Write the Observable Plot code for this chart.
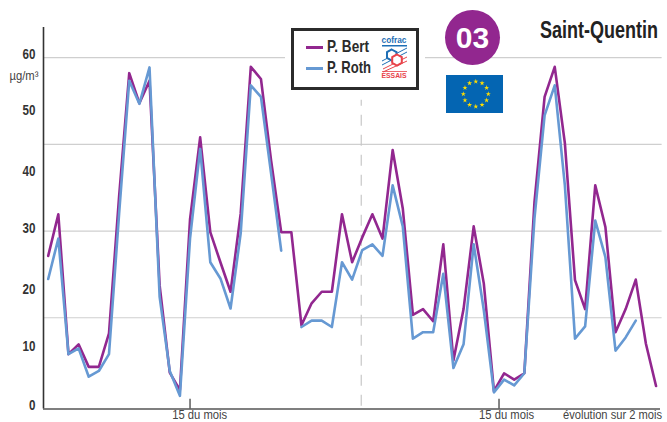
<!DOCTYPE html>
<html><head><meta charset="utf-8">
<script src="https://cdn.jsdelivr.net/npm/d3@7"></script>
<script src="https://cdn.jsdelivr.net/npm/@observablehq/plot@0.6"></script>
<style>
html,body{margin:0;padding:0;background:#fff;}
body{width:667px;height:422px;overflow:hidden;position:relative;}
#chart{position:absolute;left:0;top:0;}
#chart svg{display:block;}
.ov{position:absolute;font-family:"Liberation Sans",sans-serif;}
.nar{display:inline-block;transform-origin:left center;white-space:nowrap;}
</style></head><body>
<div id="chart"></div>
<div id="over"></div>
<script>
const bert = [25.7,32.9,8.7,10.4,6.5,6.5,12.3,36,57.3,52.1,56,20.6,5.5,2.5,32,46.2,29.8,24.6,19.5,33,58.4,56.3,42.2,29.8,29.8,13.7,17.5,19.5,19.5,32.9,24.6,28.9,32.9,28.7,44,33.9,15.5,16.5,14.4,27.7,7.6,16.5,30.8,20.9,2.3,5.4,4.3,5.4,35,53.2,58.4,45.2,21.5,16.5,37.9,30.7,12.5,16.5,21.6,10.5,3.2];
const roth = [21.7,28.7,8.7,9.7,4.8,5.8,8.7,33,56,52,58.3,18.6,5.8,1.5,28.7,44.2,24.6,21.8,16.6,29.6,55.2,53.2,40,26.6,null,13.4,14.5,14.5,13.4,24.6,21.6,26.7,27.7,25.7,37.9,30.8,11.4,12.5,12.5,22.6,6.3,10.4,27.7,16.3,2.1,4.3,3.3,5.4,32.2,50,55.2,37.9,11.4,13.5,31.8,25.5,9.3,11.6,14.5,null,null];
const days = bert.map((_, i) => i);
const gridValues = [15, 30, 45, 60];
const yLabelText = ["0","10","20","30","40","50","60"];
const yLabelPos = [-0.2,10,19.9,30.5,40.3,50.9,60.5];
const monthTicks = [14, 44.5];
const monthLabelPos = [14.95, 45.25];
const monthBoundary = 30.9;
const seriesNames = ["P. Bert","P. Roth"];
const purple = "#92278f", blue = "#6699d3";
const font = '"Liberation Sans",sans-serif';

const xDomain = [-0.464, 60.44], yDomain = [-0.78, 65.2];

const chart = Plot.plot({
  width: 667, height: 422,
  marginLeft: 43, marginRight: 7, marginTop: 27, marginBottom: 13.5,
  style: {fontFamily: font, background: "#fff", overflow: "visible"},
  x: {domain: xDomain, axis: null},
  y: {domain: yDomain, axis: null},
  marks: [
    Plot.ruleY(gridValues, {x1: xDomain[0], x2: 60.6, stroke: "#cfcfcf", strokeWidth: 1.2}),
    Plot.ruleX([monthBoundary], {y1: -0.3, y2: 52.6, stroke: "#c8c8c8", strokeWidth: 1.2, strokeDasharray: "11 9"}),
    Plot.line(days, {x: d => d, y: i => bert[i], stroke: purple, strokeWidth: 2.6, curve: "linear"}),
    Plot.line(days, {x: d => d, y: i => roth[i], stroke: blue, strokeWidth: 2.6, curve: "linear"}),
    Plot.ruleX([xDomain[0]], {y1: yDomain[0], y2: yDomain[1], stroke: "#333", strokeWidth: 1.6}),
    Plot.ruleY([yDomain[0]], {x1: xDomain[0], x2: xDomain[1], stroke: "#555", strokeWidth: 1.4}),
    Plot.ruleX(monthTicks, {y1: yDomain[0], y2: 0.9, stroke: "#333", strokeWidth: 1.2}),
    Plot.text(yLabelPos, {y: d => d, frameAnchor: "left", dx: -8, textAnchor: "end",
      text: (d, i) => yLabelText[i], fontSize: 14.5, fontWeight: "bold", fill: "#333"}),
    Plot.text(monthLabelPos, {x: d => d, frameAnchor: "bottom", lineAnchor: "middle", dy: 6, text: () => "15 du mois", fontSize: 12.5, fill: "#444"}),
    Plot.text(["évolution sur 2 mois"], {frameAnchor: "bottom-right", lineAnchor: "middle", dx: 1.5, dy: 6.5, textAnchor: "end", text: d => d, fontSize: 12, fill: "#444"}),
    Plot.text(["µg/m³"], {frameAnchor: "top-left", lineAnchor: "middle", dx: -34, dy: 48, textAnchor: "start", text: d => d, fontSize: 12.5, fill: "#444"})
  ]
});
document.getElementById("chart").append(chart);

const targetWidths = {"15 du mois": 55, "évolution sur 2 mois": 99, "µg/m³": 29};
chart.querySelectorAll("text").forEach(t => {
  const s = t.textContent;
  const w = t.getComputedTextLength();
  const target = targetWidths[s] || w * 0.8;
  t.setAttribute("textLength", target);
  t.setAttribute("lengthAdjust", "spacingAndGlyphs");
});

const over = document.getElementById("over");
over.innerHTML = `
<div class="ov" style="left:291px;top:28px;width:122px;height:56px;border:3px solid #2b2b2b;background:#fff;box-shadow:0 0 0 6px #fff;">
  <div style="position:absolute;left:12px;top:15px;width:17px;height:2.5px;background:${purple}"></div>
  <div style="position:absolute;left:12px;top:36px;width:17px;height:2.5px;background:${blue}"></div>
  <div class="nar" data-w="42" style="position:absolute;left:33px;top:6px;font-size:17px;font-weight:bold;color:#2b2b2b;">${seriesNames[0]}</div>
  <div class="nar" data-w="44" style="position:absolute;left:33px;top:27px;font-size:17px;font-weight:bold;color:#2b2b2b;">${seriesNames[1]}</div>
  <svg style="position:absolute;left:86px;top:3px;" width="32" height="50" viewBox="0 0 32 50">
    <text x="1.5" y="9" font-family="Liberation Sans" font-weight="bold" font-size="8.5" fill="#1f6fb5" textLength="25" lengthAdjust="spacingAndGlyphs">cofrac</text>
    <rect x="2" y="11" width="25" height="1.5" fill="#1f6fb5"/>
    <path d="M2 27L27 14M2 31L27 18" stroke="#1f6fb5" stroke-width="1"/>
    <path d="M3 35L27 23M3 38L27 27" stroke="#e8434a" stroke-width="1"/>
    <polygon points="11.7,15.5 16.5,18.2 16.5,23.8 11.7,26.5 7,23.8 7,18.2" fill="#fff" stroke="#1f6fb5" stroke-width="2"/>
    <polygon points="17,20.5 21.8,23.2 21.8,28.8 17,31.5 12.2,28.8 12.2,23.2" fill="#fff" stroke="#e8434a" stroke-width="2"/>
    <rect x="2" y="37" width="25" height="0.8" fill="#e8434a"/>
    <text x="1.5" y="44" font-family="Liberation Sans" font-weight="bold" font-size="7" fill="#e8434a" textLength="25" lengthAdjust="spacingAndGlyphs">ESSAIS</text>
  </svg>
</div>
<div class="ov" style="left:445px;top:10px;width:55px;height:55px;border-radius:50%;background:${purple};color:#fff;font-weight:bold;font-size:30px;line-height:55px;text-align:center;">03</div>
<div class="ov nar" data-w="118" style="left:540px;top:16px;font-size:24.5px;font-weight:bold;color:#222;">Saint-Quentin</div>
<svg class="ov" id="flag" style="left:446px;top:75px;" width="57" height="38"></svg>`;

document.querySelectorAll(".nar").forEach(el => {
  const w = el.getBoundingClientRect().width;
  el.style.transform = `scaleX(${el.dataset.w / w})`;
});

const flag = d3.select("#flag");
flag.append("rect").attr("width", 57).attr("height", 38).attr("fill", "#0465b2");
const star = d3.symbol(d3.symbolStar, 8)();
d3.range(12).forEach(i => {
  const a = i / 12 * 2 * Math.PI;
  flag.append("path").attr("d", star).attr("fill", "#ffdd00")
    .attr("transform", `translate(${29.8 + 12.5 * Math.sin(a)},${19 - 12.5 * Math.cos(a)})`);
});
</script>
</body></html>
